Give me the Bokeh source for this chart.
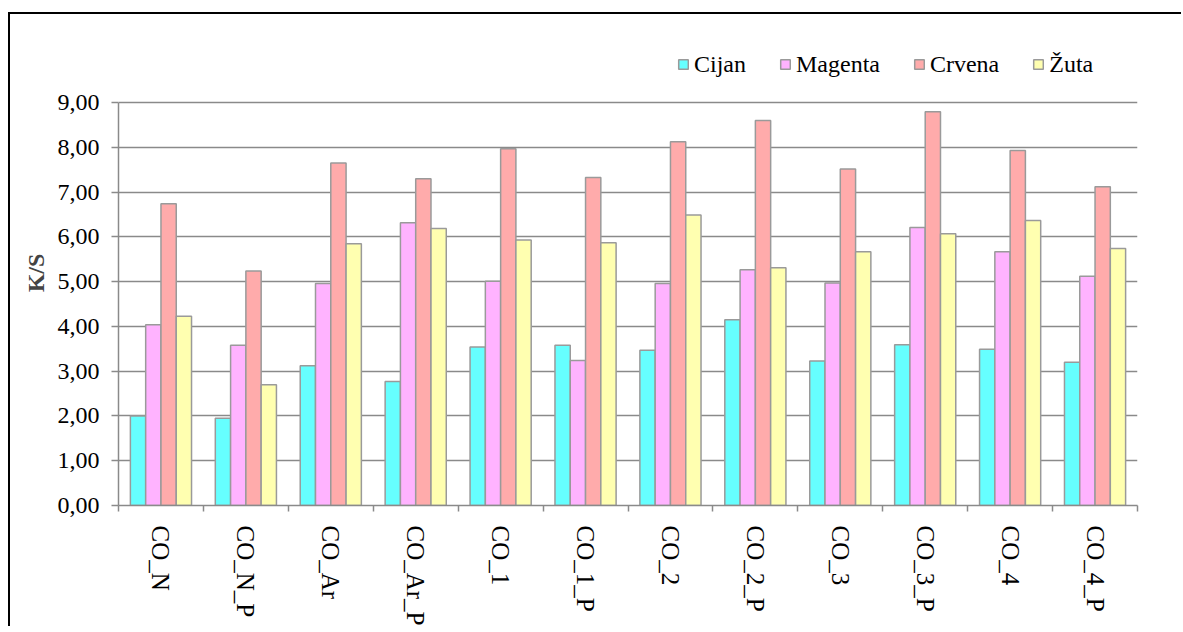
import math
from bokeh.plotting import figure
from bokeh.models import Range1d, FixedTicker, Legend, LegendItem
from bokeh.embed import file_html
from bokeh.resources import INLINE

categories = ["CO_N", "CO_N_P", "CO_Ar", "CO_Ar_P", "CO_1", "CO_1_P",
              "CO_2", "CO_2_P", "CO_3", "CO_3_P", "CO_4", "CO_4_P"]
cijan = [2.00, 1.95, 3.12, 2.77, 3.54, 3.58, 3.47, 4.15, 3.23, 3.59, 3.49, 3.20]
magenta = [4.04, 3.58, 4.96, 6.32, 5.01, 3.24, 4.96, 5.27, 4.97, 6.21, 5.67, 5.12]
crvena = [6.74, 5.24, 7.65, 7.30, 7.97, 7.33, 8.13, 8.60, 7.52, 8.80, 7.93, 7.12]
zuta = [4.23, 2.70, 5.85, 6.19, 5.93, 5.87, 6.49, 5.31, 5.67, 6.07, 6.37, 5.74]
series_names = ["Cijan", "Magenta", "Crvena", "Žuta"]
y_ticks = [0, 1, 2, 3, 4, 5, 6, 7, 8, 9]
y_tick_labels = ["0,00", "1,00", "2,00", "3,00", "4,00", "5,00", "6,00", "7,00", "8,00", "9,00"]

colors = ["#66FFFF", "#FFB3FF", "#FFABAB", "#FFFFB0"]
FONT = "Liberation Serif"
GRID = "#8a8a8a"

n = len(categories)
W, H = 1173, 614
TOP, BOTTOM, LEFT, RIGHT = 26, 117, 108, 46
frame_h = H - TOP - BOTTOM          # 471 px
axis_h = 408                        # pixels spanned by 0..9
y_max = 9 * frame_h / axis_h        # leave room for the legend above 9,00

p = figure(width=W, height=H, output_backend="svg", toolbar_location=None,
           x_range=Range1d(0, n), y_range=Range1d(0, y_max))
p.min_border_left = LEFT
p.min_border_right = RIGHT
p.min_border_top = TOP
p.min_border_bottom = BOTTOM
p.outline_line_color = None
p.background_fill_color = "white"
p.border_fill_color = "white"
p.styles = {"margin-left": "10px", "margin-top": "14px",
            "box-shadow": "-2px -2px 0 0 black", "background-color": "white"}

bar_w = 0.18
offsets = [-0.27, -0.09, 0.09, 0.27]
renderers = []
for vals, off, col in zip([cijan, magenta, crvena, zuta], offsets, colors):
    xs = [i + 0.5 + off for i in range(n)]
    r = p.vbar(x=xs, top=vals, width=bar_w, bottom=0, fill_color=col,
               line_color="#9a9a9a", line_width=1.5)
    renderers.append(r)

# y axis
p.yaxis.ticker = FixedTicker(ticks=y_ticks)
p.yaxis.bounds = (0, 9)
p.yaxis.major_label_overrides = {t: l for t, l in zip(y_ticks, y_tick_labels)}
p.yaxis.axis_label = "K/S"
p.yaxis.axis_label_text_font = FONT
p.yaxis.axis_label_text_font_style = "bold"
p.yaxis.axis_label_text_font_size = "24px"
p.yaxis.axis_label_standoff = 6
p.yaxis.major_label_text_font = FONT
p.yaxis.major_label_text_font_size = "24px"
p.yaxis.major_label_text_color = "black"
p.yaxis.major_label_standoff = 12
p.yaxis.major_tick_out = 7
p.yaxis.major_tick_in = 0
p.yaxis.minor_tick_line_color = None
p.yaxis.axis_line_color = GRID
p.yaxis.axis_line_width = 1.5
p.yaxis.major_tick_line_color = GRID
p.yaxis.major_tick_line_width = 1.5

# x axis: labels at centres, tick marks at boundaries
centers = [i + 0.5 for i in range(n)]
p.xaxis.ticker = FixedTicker(ticks=centers, minor_ticks=list(range(n + 1)))
p.xaxis.major_label_overrides = {c: lab for c, lab in zip(centers, categories)}
p.xaxis.major_label_orientation = -math.pi / 2
p.xaxis.major_label_text_font = FONT
p.xaxis.major_label_text_font_size = "25px"
p.xaxis.major_label_text_color = "black"
p.xaxis.major_label_standoff = 14
p.xaxis.major_tick_line_color = None
p.xaxis.major_tick_out = 0
p.xaxis.major_tick_in = 0
p.xaxis.minor_tick_line_color = GRID
p.xaxis.minor_tick_line_width = 1.5
p.xaxis.minor_tick_out = 6
p.xaxis.minor_tick_in = 0
p.xaxis.axis_line_color = GRID
p.xaxis.axis_line_width = 1.5

p.xgrid.grid_line_color = None
p.ygrid.grid_line_color = GRID
p.ygrid.grid_line_width = 1.5

legend = Legend(items=[LegendItem(label=nm, renderers=[r]) for nm, r in zip(series_names, renderers)],
                orientation="horizontal", location=(559, 427))
legend.label_text_font = FONT
legend.label_text_font_size = "24px"
legend.label_text_color = "black"
legend.label_height = 28
legend.glyph_width = 12
legend.glyph_height = 12
legend.label_standoff = 5
legend.spacing = 33
legend.padding = 0
legend.margin = 0
legend.border_line_color = None
legend.background_fill_alpha = 0
p.add_layout(legend, "center")

open("out.html", "w").write(file_html(p, INLINE))
